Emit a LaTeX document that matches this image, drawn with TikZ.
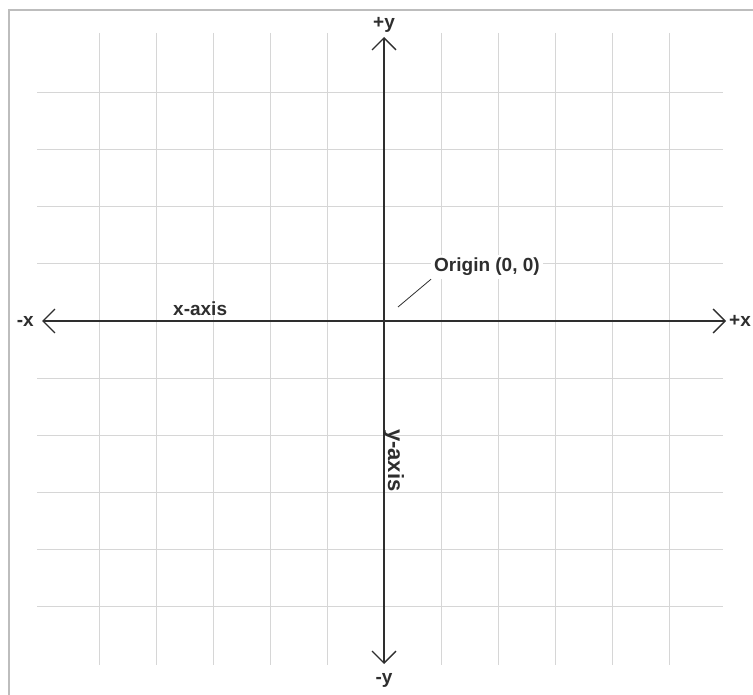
\documentclass[tikz,border=0pt]{standalone}
\usepackage{fontspec}
\setmainfont{Liberation Sans}
\usetikzlibrary{arrows.meta,positioning}
\definecolor{gridgray}{HTML}{D6D6D6}
\definecolor{framegray}{HTML}{BDBDBD}
\definecolor{axisdark}{HTML}{2E2E2E}

\begin{document}
\begin{tikzpicture}[x=1pt,y=-1pt,
  gridline/.style={gridgray,line width=1pt},
  axisline/.style={axisdark,line width=1.6pt,
    {Straight Barb[length=12pt,width=24pt,line width=1.4pt]}-{Straight Barb[length=12pt,width=24pt,line width=1.4pt]}},
  lbl/.style={font=\fontsize{19}{23}\selectfont\bfseries,text=axisdark,inner sep=3pt}]
  \useasboundingbox (0,0) rectangle (753,695);

  % Frame
  \draw[framegray,line width=2pt] (9,695) -- (9,10) -- (753,10);

  % Grid
  \foreach \gx in {-5,...,-1,1,2,...,5}
    \draw[gridline] (384+57*\gx,33) -- (384+57*\gx,665);
  \foreach \gy in {-4,...,-1,1,2,...,5}
    \draw[gridline] (37,321+57*\gy) -- (723,321+57*\gy);

  % Axes
  \coordinate (xl) at (42,321);
  \coordinate (xr) at (726,321);
  \coordinate (yt) at (384,37);
  \coordinate (yb) at (384,664);
  \draw[axisline] (xl) -- (xr);
  \draw[axisline] (yb) -- (yt);

  % Axis ends
  \node[lbl,left=5pt of xl] (mx) {-x};
  \node[lbl,inner sep=0pt,right=3pt of xr] (px) {+x};
  \node[lbl,above=1pt of yt] (py) {+y};
  \node[lbl,below=6pt of yb] (my) {-y};

  % Axis names
  \node[lbl,anchor=base west] (xname) at (170,316) {x-axis};
  \node[lbl,font=\fontsize{22}{26}\selectfont\bfseries,anchor=base west,rotate=-90] (yname) at (388,426) {y-axis};

  % Origin
  \node[lbl,anchor=base west,fill=white] (orig) at (431,272) {Origin (0, 0)};
  \coordinate (optr) at (398,307);
  \draw[axisdark,line width=0.8pt] (optr) -- (orig.south west);
\end{tikzpicture}
\end{document}
